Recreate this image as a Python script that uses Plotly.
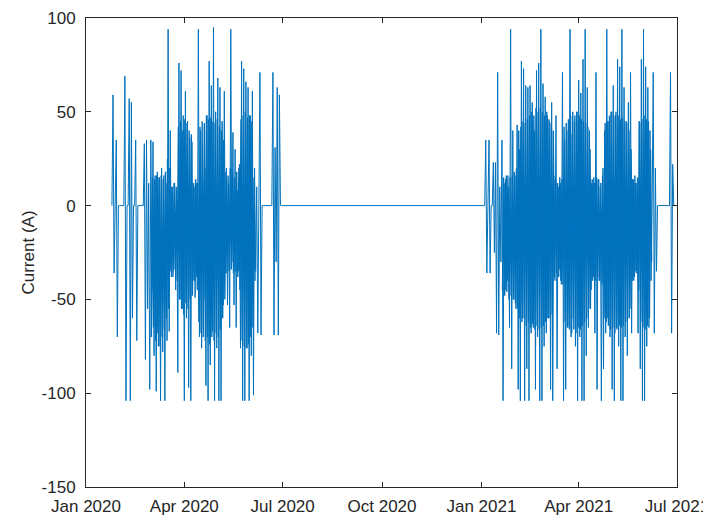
import pandas as pd
import plotly.graph_objects as go

# ---- Period 1 daily peaks (starting 2020-01-25) ----
p1_start = "2020-01-25"
p1_jan = [0, 59, -36, 0, 35, -70, 0]
p1_feb = [0, 0, 0, 0, 0, 69, -104, 0, 0, 57, -104, 55, -60, 0, 0, 35, -72,
          0, 0, 0, 0, 0, 0, 33, -82, 35, -55, 12, -98]
p1_mar = [35, -45, 34, -80, 16, -99, 18, -75, 15, -104, 20, -78, 16, -104, 12,
          -72, 94, -67, 40, -38, 10, -35, 12, -45, 8, -89, 76, -50, 72, -55, 48]
p1_apr = [-104, 61, -60, 45, -97, 36, -104, 34, -40, 10, -49, 12, -45, 94, -70,
          40, -76, 14, -50, 20, -96, 48, -104, 77, -85, 64, -67, 95, -104, 50]
p1_may = [-76, 68, -104, 63, -104, 45, -53, 61, -36, 20, -53, 12, -65, 94, -30,
          39, -53, 30, -65, 8, -35, 22, -76, 77, -104, 73, -104, 66, -76, 63, -104]
p1_jun = [48, -80, 61, -101, 20, -35, 10, -68, 0, 71, -69, 0, 0, 0, 0, 0, 0, 0,
          0, 0, 0, 71, -69, 31, -30, 63, -69, 59, 0, 0]

# ---- Period 1 half-day background oscillation (from 2020-03-01 12:00) ----
p1_core_start = "2020-03-01 12:00"
p1_core = [-70, 15, -65, 14, -72, 16, -68, 15, -75, 16, -70, 14, -66, 18,
           -60, 25, -55, 20,
           -35, 10, -38, 12, -34, 10, -40,
           42, -50, 45, -55, 40, -58, 46, -52, 44, -55, 40, -50, 38, -48,
           12, -40, 14, -38, 12,
           -62, 42, -68, 45, -70, 44, -72, 48, -70, 46, -74, 47, -70, 45, -72,
           44, -68, 46, -70, 42, -66, 40, -60, 35, -50,
           18, -36, 16, -35, 20, -34, 18, -36, 15, -35, 18, -38, 20, -45,
           46, -72, 48, -75, 50, -76, 47, -74, 48, -70, 45, -65,
           15, -40]

# ---- Period 2 daily peaks (starting 2021-01-01) ----
p2_start = "2021-01-01"
p2_jan = [0, 0, 0, 0, 35, -36, 0, 35, -36, 0, 0, 23, -25, 23, -68, 71, -69, 10,
          -30, 35, -104, 12, -45, 16, -40, 10, -65, 94, -87, 40, -50]
p2_feb = [16, -55, 43, -98, 30, -104, 77, -60, 73, -104, 64, -87, 63, -104, 64,
          -68, 55, -65, 40, -98, 72, -70, 76, -104, 94, -104, 65, -75]
p2_mar = [58, -68, 48, -60, 45, -98, 55, -104, 16, -40, 48, -87, 10, -34, 12, -42,
          71, -104, 35, -98, 40, -65, -20, 94, -70, 38, -60, 45, -75, 50, -104]
p2_apr = [67, -70, 60, -104, 78, -104, 94, -80, 63, -65, 40, -55, 12, -40, 15,
          -68, 71, -98, 14, -40, 10, -104, 16, -87, 40, -68, 94, -60, 45, -70]
p2_may = [50, -98, 64, -104, 48, -65, 78, -75, 74, -104, 94, -104, 63, -70, 45,
          -80, 55, -60, 71, -68, 14, -40, 16, -35, 12, -68, 45, -87, 78, -104, 94]
p2_jun = [-104, 74, -75, 63, -65, 40, -40, 0, 71, -68, 20, -35, 0, 0, 0, 0, 0, 0,
          0, 0, 0, 0, 0, 0, 71, -68, 22, 0, 0, 0]
p2_jul = [0]

# ---- Period 2 half-day background oscillation (from 2021-01-20 12:00) ----
p2_core_start = "2021-01-20 12:00"
p2_core = [-45, 15, -48, 14, -46, 16, -50, 15, -48, 16, -50, 18, -52, 20, -55,
           40, -60, 42, -62, 45, -60, 44, -64, 46, -62, 48, -65, 50, -63, 48,
           -66, 52, -64, 50, -66, 52, -65, 50, -64, 48, -62, 50, -60, 46, -60,
           44, -58, 40,
           -38, 14, -36, 12, -38, 15, -40, 14, -42,
           42, -62, 44, -65, 46, -66, 48, -68, 50, -66, 48, -68, 50, -65, 48,
           -66, 46, -64, 45, -62, 44, -60, 42, -55, 30, -45,
           14, -38, 12, -40, 15, -38, 14, -40, 12, -42, 20,
           -60, 44, -62, 45, -64, 48, -66, 50, -65, 48, -68, 50, -66, 48, -64,
           46, -65, 47, -64, 45, -62, 44, -60, 40, -55, 30,
           -40, 14, -38, 12, -36, 15, -45,
           44, -62, 46, -65, 48, -66, 46, -64, 45, -60, 30, -30]

# ---- Axis ticks ----
y_ticks = [-150, -100, -50, 0, 50, 100]
y_tick_text = ["-150", "-100", "-50", "0", "50", "100"]
x_tick_dates = ["2020-01-01", "2020-04-01", "2020-07-01", "2020-10-01",
                "2021-01-01", "2021-04-01", "2021-07-01"]
x_tick_text = ["Jan 2020", "Apr 2020", "Jul 2020", "Oct 2020",
               "Jan 2021", "Apr 2021", "Jul 2021"]

y1 = p1_jan + p1_feb + p1_mar + p1_apr + p1_may + p1_jun
y2 = p2_jan + p2_feb + p2_mar + p2_apr + p2_may + p2_jun + p2_jul
x1 = list(pd.date_range(p1_start, periods=len(y1), freq="D"))
x2 = list(pd.date_range(p2_start, periods=len(y2), freq="D"))
xc1 = list(pd.date_range(p1_core_start, periods=len(p1_core), freq="D"))
xc2 = list(pd.date_range(p2_core_start, periods=len(p2_core), freq="D"))

line_color = "#0072BD"
fig = go.Figure()
fig.add_trace(go.Scatter(x=xc1, y=p1_core, mode="lines",
                         line=dict(color=line_color, width=1.4)))
fig.add_trace(go.Scatter(x=xc2, y=p2_core, mode="lines",
                         line=dict(color=line_color, width=1.4)))
fig.add_trace(go.Scatter(x=x1 + x2, y=y1 + y2, mode="lines",
                         line=dict(color=line_color, width=1)))

axis_color = "#262626"
font_family = "Liberation Sans, Arial, sans-serif"
common = dict(showline=True, linecolor=axis_color, linewidth=1, mirror="ticks",
              ticks="inside", ticklen=5, tickcolor=axis_color, tickwidth=1,
              showgrid=False, zeroline=False, automargin=False,
              tickfont=dict(family=font_family, size=17, color=axis_color))

# the page body adds an 8px offset, so the figure is 8px smaller than the window
fig.update_layout(
    width=703, height=509,
    margin=dict(l=78, r=34, t=10, b=30),
    paper_bgcolor="white", plot_bgcolor="white",
    showlegend=False,
    xaxis=dict(type="date", range=["2020-01-01", "2021-07-01"],
               tickvals=x_tick_dates, ticktext=x_tick_text,
               ticklabeloverflow="allow", ticklabelstandoff=4, **common),
    yaxis=dict(range=[-150, 100], tickvals=y_ticks, ticktext=y_tick_text,
               ticklabelstandoff=6,
               title=dict(text="Current (A)", standoff=2,
                          font=dict(family=font_family, size=17, color=axis_color)),
               **common),
)

fig.write_html("out.html")
